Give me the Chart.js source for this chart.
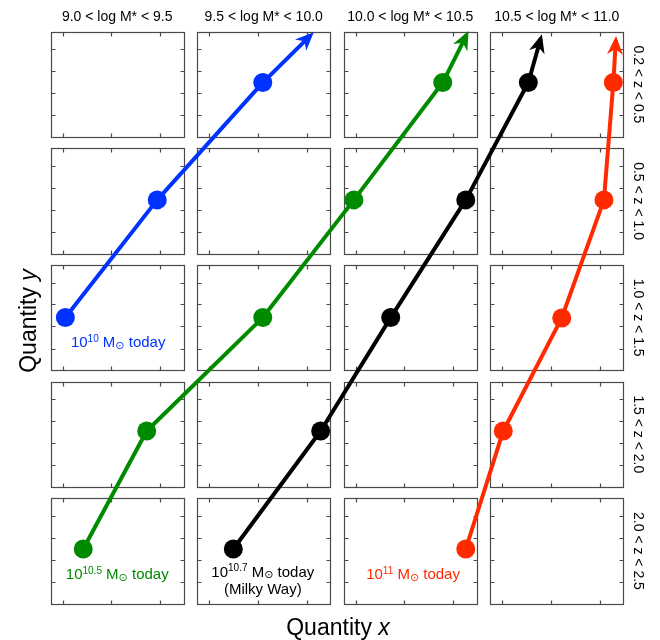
<!DOCTYPE html>
<html>
<head>
<meta charset="utf-8">
<script src="https://cdn.jsdelivr.net/npm/chart.js@4.4.1/dist/chart.umd.min.js"></script>
<style>
  html, body { margin: 0; padding: 0; background: #ffffff; }
  #wrap { width: 660px; height: 640px; position: relative; }
</style>
</head>
<body>
<div id="wrap"><canvas id="c"></canvas></div>
<script>
// ---- data (grid units: each column pitch = 1 in x, each row pitch = 1 in y, bottom row = 0) ----
const columnTitles = ['9.0 < log M* < 9.5', '9.5 < log M* < 10.0', '10.0 < log M* < 10.5', '10.5 < log M* < 11.0'];
const rowTitles = ['0.2 < z < 0.5', '0.5 < z < 1.0', '1.0 < z < 1.5', '1.5 < z < 2.0', '2.0 < z < 2.5'];

const blueX  = [0.100, 0.727, 1.447, 1.773];
const blueY  = [2.453, 3.462, 4.468, 4.873];
const greenX = [0.222, 0.655, 1.447, 2.069, 2.675, 2.837];
const greenY = [0.469, 1.481, 2.453, 3.462, 4.468, 4.875];
const blackX = [1.246, 1.842, 2.320, 2.832, 3.259, 3.343];
const blackY = [0.469, 1.481, 2.453, 3.462, 4.468, 4.844];
const redX   = [2.832, 3.088, 3.487, 3.775, 3.839, 3.856];
const redY   = [0.469, 1.481, 2.450, 3.462, 4.468, 4.829];

const seriesExponents = ['10', '10.5', '10.7', '11'];
const seriesNotes = ['', '', '(Milky Way)', ''];

const panelXTicks = [0.082, 0.414, 0.746];
const panelYTicks = [0.186, 0.377, 0.566, 0.752];

// ---- styles / layout ----
const PANEL_W = 0.907, PANEL_H = 0.904;
const NCOLS = 4, NROWS = 5;
const colors = ['#0033ff', '#008a00', '#000000', '#ff2a00'];
const labelOffsets = [[52.8, 29.6], [34, 30.3], [29.5, 27.7], [-52.7, 30.3]];
const FONT = "'Liberation Sans', Arial, Helvetica, sans-serif";

function zip(xs, ys) { return xs.map((x, i) => ({ x: x, y: ys[i] })); }
function radii(n) { const r = []; for (let i = 0; i < n; i++) r.push(i === n - 1 ? 0 : 9.5); return r; }

const seriesX = [blueX, greenX, blackX, redX];
const seriesY = [blueY, greenY, blackY, redY];

const datasets = seriesX.map((xs, i) => ({
  data: zip(xs, seriesY[i]),
  showLine: true,
  borderColor: colors[i],
  backgroundColor: colors[i],
  borderWidth: 4,
  borderCapStyle: 'butt',
  borderJoinStyle: 'round',
  pointRadius: radii(xs.length),
  pointHoverRadius: radii(xs.length),
  pointBorderWidth: 0,
  tension: 0,
  clip: false
}));

function drawRich(ctx, parts, x, y) {
  let total = 0;
  const widths = parts.map(p => { ctx.font = p.f; const w = ctx.measureText(p.t).width; total += w; return w; });
  let cur = x - total / 2;
  ctx.textAlign = 'left';
  ctx.textBaseline = 'alphabetic';
  parts.forEach((p, i) => {
    ctx.font = p.f;
    ctx.fillText(p.t, cur, y + (p.dy || 0));
    cur += widths[i];
  });
}

const panelPlugin = {
  id: 'panels',
  beforeDatasetsDraw(chart) {
    const ctx = chart.ctx, xs = chart.scales.x, ys = chart.scales.y;
    ctx.save();
    ctx.strokeStyle = '#4a4a4a';
    ctx.lineWidth = 1.2;
    for (let c = 0; c < NCOLS; c++) {
      for (let r = 0; r < NROWS; r++) {
        const L = Math.round(xs.getPixelForValue(c)) + 0.5;
        const R = Math.round(xs.getPixelForValue(c + PANEL_W)) + 0.5;
        const B = Math.round(ys.getPixelForValue(r)) + 0.5;
        const T = Math.round(ys.getPixelForValue(r + PANEL_H)) + 0.5;
        ctx.strokeRect(L, T, R - L, B - T);
        ctx.beginPath();
        panelXTicks.forEach(t => {
          const px = Math.round(xs.getPixelForValue(c + t)) + 0.5;
          ctx.moveTo(px, T); ctx.lineTo(px, T + 4);
          ctx.moveTo(px, B); ctx.lineTo(px, B - 4);
        });
        panelYTicks.forEach(t => {
          const py = Math.round(ys.getPixelForValue(r + t)) + 0.5;
          ctx.moveTo(L, py); ctx.lineTo(L + 4, py);
          ctx.moveTo(R, py); ctx.lineTo(R - 4, py);
        });
        ctx.stroke();
      }
    }
    // column titles
    ctx.fillStyle = '#000';
    ctx.font = '14px ' + FONT;
    ctx.textAlign = 'center';
    ctx.textBaseline = 'alphabetic';
    columnTitles.forEach((t, c) => {
      const cx = (xs.getPixelForValue(c) + xs.getPixelForValue(c + PANEL_W)) / 2;
      ctx.fillText(t, cx, 21);
    });
    // row titles (rotated clockwise)
    rowTitles.forEach((t, i) => {
      const r = NROWS - 1 - i;
      const cy = (ys.getPixelForValue(r) + ys.getPixelForValue(r + PANEL_H)) / 2;
      ctx.save();
      ctx.translate(638, cy);
      ctx.rotate(Math.PI / 2);
      ctx.textAlign = 'center';
      ctx.textBaseline = 'middle';
      ctx.font = '14px ' + FONT;
      ctx.fillText(t, 0, 0);
      ctx.restore();
    });
    // axis titles
    drawRich(ctx, [
      { t: 'Quantity ', f: '23px ' + FONT },
      { t: 'x', f: 'italic 23px ' + FONT }
    ], 338, 635);
    ctx.save();
    ctx.translate(36, 321);
    ctx.rotate(-Math.PI / 2);
    drawRich(ctx, [
      { t: 'Quantity ', f: '23px ' + FONT },
      { t: 'y', f: 'italic 23px ' + FONT }
    ], 0, 0);
    ctx.restore();
    ctx.restore();
  },
  afterDatasetsDraw(chart) {
    const ctx = chart.ctx;
    ctx.save();
    chart.data.datasets.forEach((ds, i) => {
      const pts = chart.getDatasetMeta(i).data;
      const n = pts.length;
      const a = pts[n - 2], b = pts[n - 1];
      let dx = b.x - a.x, dy = b.y - a.y;
      const len = Math.hypot(dx, dy); dx /= len; dy /= len;
      const nx = -dy, ny = dx;
      const tx = b.x + dx * 4.5, ty = b.y + dy * 4.5;
      const Lh = 18.5, Wh = 8, notch = 5.5;
      ctx.fillStyle = colors[i];
      ctx.beginPath();
      ctx.moveTo(tx, ty);
      ctx.lineTo(tx - dx * Lh + nx * Wh, ty - dy * Lh + ny * Wh);
      ctx.lineTo(tx - dx * (Lh - notch), ty - dy * (Lh - notch));
      ctx.lineTo(tx - dx * Lh - nx * Wh, ty - dy * Lh - ny * Wh);
      ctx.closePath();
      ctx.fill();

      // "today" label anchored to the first point
      const p0 = pts[0];
      const lx = p0.x + labelOffsets[i][0], ly = p0.y + labelOffsets[i][1];
      ctx.fillStyle = colors[i];
      drawRich(ctx, [
        { t: '10', f: '15px ' + FONT },
        { t: seriesExponents[i], f: '10px ' + FONT, dy: -5.5 },
        { t: ' M', f: '15px ' + FONT },
        { t: '\u2299', f: "11px 'DejaVu Sans', sans-serif", dy: 1.5 },
        { t: ' today', f: '15px ' + FONT }
      ], lx, ly);
      if (seriesNotes[i]) {
        ctx.font = '15px ' + FONT;
        ctx.textAlign = 'center';
        ctx.fillText(seriesNotes[i], lx, ly + 17);
      }
    });
    ctx.restore();
  }
};

new Chart(document.getElementById('c'), {
  type: 'scatter',
  data: { datasets: datasets },
  options: {
    responsive: true,
    maintainAspectRatio: false,
    devicePixelRatio: 1,
    animation: false,
    events: [],
    layout: { padding: { left: 50.7, right: 36.7, top: 31.7, bottom: 36.3 } },
    scales: {
      x: { type: 'linear', min: 0, max: 3.907, display: false },
      y: { type: 'linear', min: 0, max: 4.904, display: false }
    },
    plugins: { legend: { display: false }, tooltip: { enabled: false }, title: { display: false } }
  },
  plugins: [panelPlugin]
});
</script>
</body>
</html>
